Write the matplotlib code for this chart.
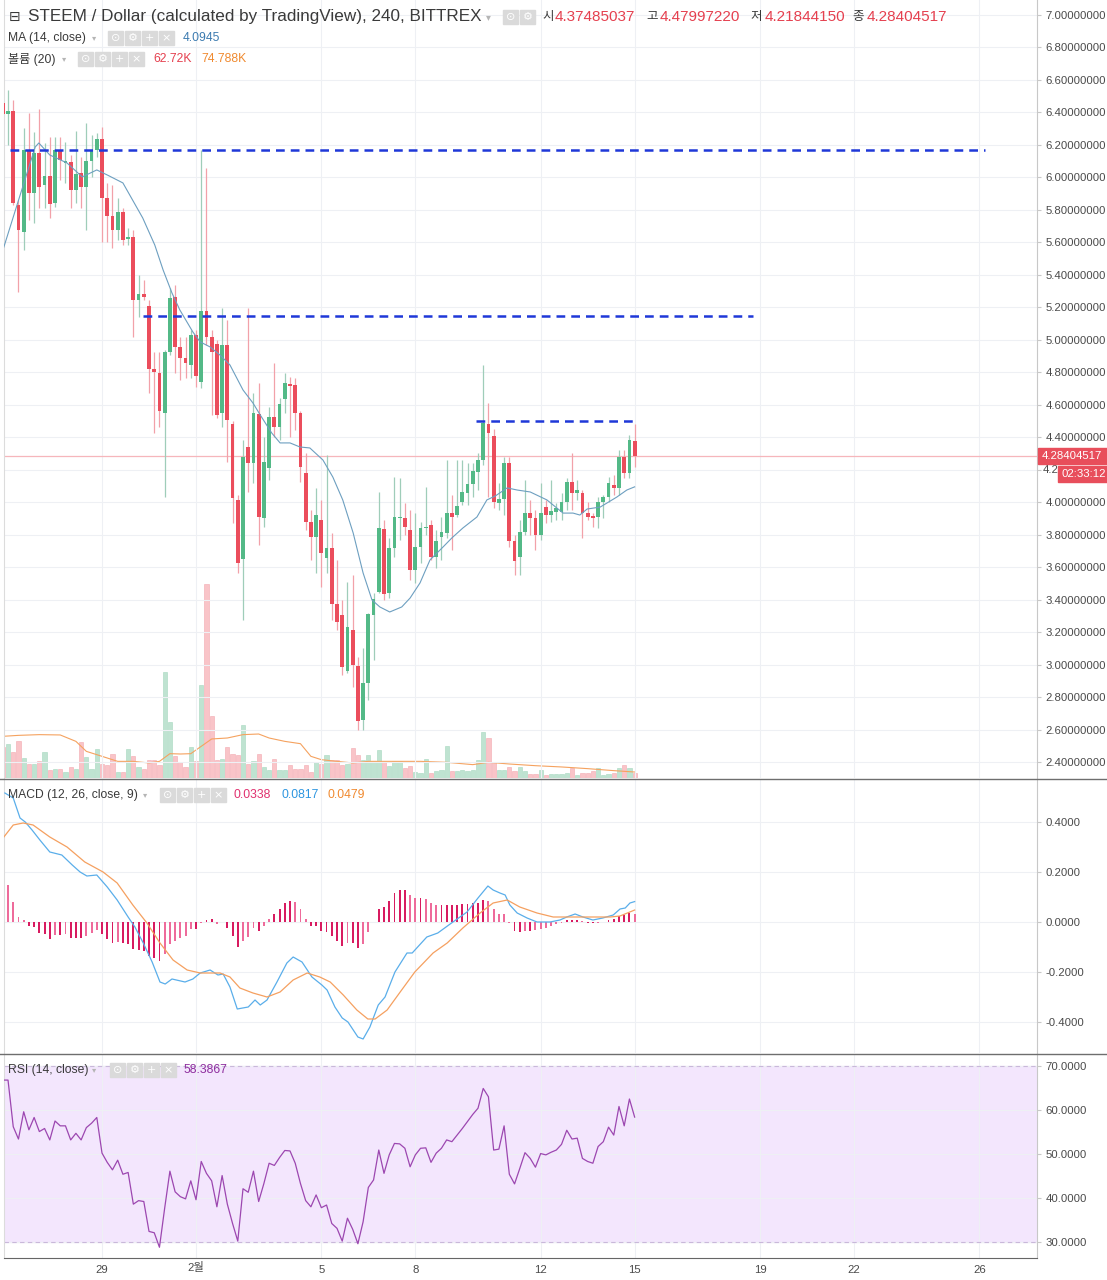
import numpy as np
import matplotlib
matplotlib.use('Agg')
import matplotlib.pyplot as plt
from matplotlib.patches import Rectangle
from matplotlib.lines import Line2D
from matplotlib.transforms import ScaledTranslation

plt.rcParams['font.family'] = ['Liberation Sans', 'Noto Sans CJK KR', 'DejaVu Sans']

W, H = 1107, 1280

# ---- STEEM / USD, 4h candles (index 0..121) ----
opens = [6.458, 6.390, 6.409, 5.830, 5.664, 6.169, 5.904, 6.150, 5.953, 6.009,
         5.842, 6.169, 6.089, 6.095, 5.922, 6.027, 5.941, 6.101, 6.169, 6.236,
         5.873, 5.762, 5.676, 5.787, 5.621, 5.633, 5.245, 5.282, 5.208, 4.820,
         4.796, 4.549, 4.925, 5.264, 4.956, 4.888, 4.845, 5.030, 4.740, 5.177,
         5.017, 4.974, 4.549, 4.968, 4.482, 4.014, 3.650, 4.340, 4.241, 4.543,
         3.903, 4.211, 4.525, 4.463, 4.636, 4.728, 4.722, 4.549, 4.180, 3.878,
         3.786, 3.890, 3.656, 3.718, 3.373, 3.305, 2.961, 3.213, 2.991, 2.659,
         2.887, 3.305, 3.447, 3.835, 3.441, 3.718, 3.903, 3.903, 3.829, 3.582,
         3.724, 3.841, 3.860, 3.663, 3.786, 3.810, 3.933, 3.921, 4.001, 4.057,
         4.112, 4.186, 4.260, 4.482, 4.408, 3.995, 4.020, 4.241, 3.761, 3.663,
         3.816, 3.934, 3.903, 3.798, 3.970, 3.921, 3.940, 3.940, 4.001, 4.124,
         4.057, 4.057, 3.933, 3.915, 3.909, 4.001, 4.032, 4.106, 4.087, 4.278,
         4.180, 4.3749]
highs = [6.480, 6.538, 6.477, 5.861, 6.304, 6.397, 6.280, 6.421, 6.212, 6.249,
         6.249, 6.249, 6.218, 6.138, 6.286, 6.126, 6.335, 6.261, 6.273, 6.310,
         5.966, 5.953, 5.873, 5.812, 5.689, 5.676, 5.399, 5.368, 5.245, 4.925,
         4.925, 4.937, 5.319, 5.337, 5.017, 5.017, 5.060, 5.060, 6.169, 6.058,
         5.060, 4.999, 5.196, 5.122, 4.500, 4.044, 4.383, 5.196, 4.673, 4.734,
         4.402, 4.586, 4.857, 4.642, 4.796, 4.771, 4.765, 4.560, 4.303, 3.952,
         4.088, 4.014, 4.291, 3.810, 3.644, 3.398, 3.509, 3.552, 3.047, 3.102,
         3.318, 3.441, 4.063, 3.890, 3.780, 4.155, 4.149, 3.995, 3.952, 3.934,
         3.878, 4.094, 3.890, 3.829, 3.909, 4.260, 4.044, 4.260, 4.260, 4.241,
         4.241, 4.303, 4.845, 4.611, 4.451, 4.118, 4.278, 4.278, 3.798, 3.890,
         4.137, 4.014, 3.952, 4.118, 4.014, 4.137, 3.995, 4.057, 4.149, 4.303,
         4.137, 4.075, 4.001, 3.933, 4.032, 4.044, 4.155, 4.168, 4.321, 4.321,
         4.414, 4.4800]
lows = [6.380, 6.200, 5.830, 5.294, 5.553, 5.738, 5.719, 5.812, 5.812, 5.750,
        5.818, 5.984, 5.966, 5.812, 5.842, 5.812, 5.676, 6.003, 6.126, 5.602,
        5.602, 5.565, 5.615, 5.584, 5.584, 5.017, 5.140, 5.245, 4.673, 4.426,
        4.463, 4.032, 4.906, 4.796, 4.753, 4.765, 4.765, 4.709, 4.703, 4.968,
        4.537, 4.520, 4.463, 4.248, 3.872, 3.564, 3.275, 4.063, 4.118, 3.737,
        3.847, 4.137, 4.402, 4.383, 4.549, 4.402, 4.445, 4.124, 3.829, 3.644,
        3.564, 3.478, 3.564, 3.275, 3.213, 2.936, 2.948, 2.862, 2.597, 2.597,
        2.782, 3.028, 3.441, 3.398, 3.410, 3.663, 3.767, 3.798, 3.521, 3.503,
        3.626, 3.798, 3.644, 3.595, 3.644, 3.780, 3.706, 3.909, 3.983, 3.983,
        4.032, 4.075, 4.229, 4.032, 3.964, 3.952, 3.921, 3.724, 3.552, 3.552,
        3.798, 3.798, 3.706, 3.767, 3.872, 3.878, 3.890, 3.890, 3.952, 3.952,
        4.014, 3.780, 3.890, 3.847, 3.841, 3.903, 4.001, 4.044, 4.044, 4.149,
        4.149, 4.2184]
closes = [6.390, 6.409, 5.842, 5.676, 6.169, 5.904, 6.150, 5.941, 6.009, 5.836,
          6.169, 6.107, 6.101, 5.922, 6.021, 5.941, 6.101, 6.169, 6.236, 5.873,
          5.762, 5.676, 5.787, 5.615, 5.633, 5.245, 5.282, 5.264, 4.820, 4.802,
          4.562, 4.925, 5.257, 4.956, 4.888, 4.857, 5.030, 4.777, 5.177, 5.017,
          4.925, 4.537, 4.968, 4.506, 4.026, 3.626, 4.278, 4.241, 4.549, 3.909,
          4.248, 4.525, 4.463, 4.605, 4.734, 4.716, 4.549, 4.217, 3.878, 3.786,
          3.921, 3.687, 3.718, 3.373, 3.262, 2.985, 3.232, 2.998, 2.653, 2.887,
          3.312, 3.404, 3.841, 3.435, 3.718, 3.909, 3.909, 3.847, 3.582, 3.724,
          3.841, 3.847, 3.663, 3.761, 3.816, 3.933, 3.909, 3.977, 4.063, 4.112,
          4.192, 4.260, 4.488, 4.426, 4.001, 4.020, 4.241, 3.761, 3.638, 3.816,
          3.934, 3.903, 3.798, 3.933, 3.921, 3.946, 3.964, 4.001, 4.124, 4.057,
          4.075, 3.933, 3.909, 3.903, 4.001, 4.032, 4.118, 4.087, 4.278, 4.180,
          4.383, 4.2840]
volume_k = [383, 429, 321, 467, 250, 179, 175, 208, 325, 104,
            113, 113, 71, 133, 113, 450, 263, 113, 363, 179,
            167, 304, 71, 71, 363, 279, 138, 113, 225, 225,
            167, 1325, 700, 279, 196, 138, 388, 217, 1158, 2429,
            779, 229, 238, 388, 304, 292, 663, 175, 208, 304,
            138, 104, 238, 96, 104, 167, 113, 117, 158, 71,
            200, 179, 292, 221, 229, 167, 179, 375, 283, 225,
            283, 208, 354, 200, 146, 208, 208, 125, 146, 75,
            63, 238, 63, 83, 96, 404, 92, 83, 96, 83,
            104, 221, 575, 500, 196, 96, 104, 133, 83, 133,
            83, 50, 50, 96, 42, 54, 54, 54, 63, 125,
            42, 63, 63, 83, 125, 42, 54, 63, 125, 158,
            125, 62.72]

# volume MA(20), read at a few vertices
vma_idx = [0, 3, 7, 11, 14, 16, 19, 22, 25, 28, 30, 32, 34, 36, 38, 40, 43, 46, 49,
           51, 54, 57, 59, 61, 64, 67, 70, 75, 80, 85, 90, 93, 97, 102, 107, 112, 117, 121]
vma_k = [521, 533, 542, 538, 458, 333, 271, 208, 208, 188, 208, 304, 300, 304, 396, 488,
         500, 542, 550, 500, 458, 429, 271, 229, 208, 188, 208, 208, 208, 196, 167, 196,
         175, 154, 138, 117, 92, 74.788]

# MA(14, close)
ma_idx = [0.2, 6.2, 6.9, 9.0, 12.3, 15.2, 18.0, 20.0, 23.0, 26.8, 29.1, 30.7, 32.4, 33.9,
          36.4, 37.8, 39.7, 41.6, 43.5, 46.0, 47.9, 49.3, 51.5, 53.1, 55.0, 56.9, 58.8,
          61.3, 63.2, 65.1, 67.1, 69.0, 70.7, 72.2, 74.1, 76.4, 78.0, 79.9, 81.8, 84.3,
          86.0, 88.1, 90.8, 92.7, 94.3, 96.6, 98.5, 101.0, 104.2, 106.1, 107.3, 109.2,
          110.5, 111.9, 114.4, 115.7, 117.6, 119.5, 121.0]
ma_val = [5.571, 6.187, 6.212, 6.138, 6.089, 6.003, 6.046, 6.015, 5.966, 5.750, 5.584,
          5.430, 5.288, 5.184, 5.048, 4.987, 4.956, 4.906, 4.845, 4.691, 4.611, 4.537,
          4.426, 4.365, 4.365, 4.340, 4.334, 4.260, 4.155, 4.014, 3.810, 3.564, 3.398,
          3.355, 3.324, 3.355, 3.410, 3.503, 3.644, 3.724, 3.780, 3.841, 3.909, 4.014,
          4.038, 4.088, 4.075, 4.063, 4.014, 3.964, 3.933, 3.933, 3.921, 3.958, 3.970,
          3.995, 4.032, 4.075, 4.0945]

# hand-drawn support / resistance levels
levels = [6.169, 5.147, 4.500]
level_from = [1.4, 26.8, 90.6]
level_to = [188.1, 143.7, 121.4]

# MACD (12, 26, close, 9)
macd_idx = [0.4, 2.0, 3.3, 4.3, 5.6, 7.1, 9.0, 11.3, 13.3, 14.8, 16.1, 18.0, 20.0, 21.9,
            24.0, 25.3, 26.9, 28.6, 30.1, 31.1, 32.4, 34.9, 36.4, 37.8, 39.7, 41.2, 42.2,
            43.5, 44.9, 47.0, 48.3, 49.3, 50.6, 52.5, 54.4, 55.6, 57.3, 59.2, 61.1, 62.1,
            63.6, 65.0, 66.1, 68.0, 69.0, 70.3, 71.9, 73.2, 75.1, 77.4, 78.4, 81.2, 83.3,
            86.2, 88.9, 91.0, 92.9, 93.9, 95.2, 96.2, 97.1, 98.5, 100.4, 102.3, 104.8,
            106.7, 108.0, 109.6, 111.1, 113.0, 114.9, 116.9, 118.2, 119.2, 120.1, 121.0]
macd_val = [0.516, 0.496, 0.416, 0.400, 0.368, 0.328, 0.280, 0.268, 0.228, 0.200, 0.184,
            0.188, 0.140, 0.088, 0.020, -0.020, -0.084, -0.160, -0.240, -0.248, -0.228,
            -0.240, -0.228, -0.204, -0.192, -0.212, -0.208, -0.260, -0.348, -0.340,
            -0.312, -0.332, -0.312, -0.240, -0.164, -0.140, -0.160, -0.220, -0.252,
            -0.272, -0.340, -0.384, -0.400, -0.460, -0.468, -0.420, -0.332, -0.300,
            -0.200, -0.124, -0.124, -0.060, -0.044, 0.000, 0.040, 0.096, 0.144, 0.128,
            0.116, 0.108, 0.068, 0.036, 0.016, 0.000, 0.000, 0.008, 0.020, 0.032, 0.020,
            0.008, 0.016, 0.028, 0.052, 0.056, 0.076, 0.0817]
sig_idx = [0.2, 2.0, 3.9, 5.8, 9.0, 12.3, 15.7, 19.2, 21.9, 24.9, 27.6, 30.1, 32.6, 35.3,
           37.8, 41.6, 43.5, 45.4, 47.9, 50.6, 53.1, 55.6, 58.3, 60.7, 62.7, 65.2, 67.8,
           69.9, 71.3, 73.6, 76.1, 78.9, 82.4, 85.1, 88.1, 91.4, 93.9, 96.6, 99.0, 102.3,
           105.4, 109.2, 113.0, 116.3, 118.2, 121.0]
sig_val = [0.340, 0.388, 0.396, 0.388, 0.340, 0.300, 0.240, 0.200, 0.156, 0.068, -0.004,
           -0.084, -0.152, -0.192, -0.204, -0.204, -0.220, -0.264, -0.284, -0.300, -0.280,
           -0.232, -0.204, -0.220, -0.240, -0.292, -0.352, -0.388, -0.388, -0.352, -0.280,
           -0.200, -0.124, -0.084, -0.024, 0.036, 0.076, 0.088, 0.060, 0.036, 0.020, 0.020,
           0.020, 0.020, 0.024, 0.0479]
hist = [np.nan, 0.147, 0.080, 0.020, 0.008, -0.016, -0.020, -0.043, -0.049, -0.067,
        -0.053, -0.053, -0.049, -0.063, -0.063, -0.063, -0.056, -0.043, -0.032, -0.049,
        -0.069, -0.083, -0.080, -0.083, -0.089, -0.107, -0.112, -0.116, -0.136, -0.143,
        -0.156, -0.129, -0.089, -0.076, -0.063, -0.056, -0.029, -0.029, -0.002, 0.008,
        0.011, -0.009, -0.001, -0.023, -0.056, -0.099, -0.076, -0.059, -0.023, -0.036,
        -0.016, 0.011, 0.031, 0.053, 0.077, 0.084, 0.080, 0.051, 0.013, -0.016,
        -0.016, -0.036, -0.040, -0.056, -0.076, -0.096, -0.085, -0.085, -0.103, -0.089,
        -0.040, 0.002, 0.053, 0.061, 0.084, 0.115, 0.127, 0.127, 0.107, 0.097,
        0.097, 0.093, 0.075, 0.067, 0.067, 0.067, 0.067, 0.067, 0.071, 0.071,
        0.075, 0.075, 0.088, 0.084, 0.051, 0.033, 0.031, -0.005, -0.036, -0.040,
        -0.036, -0.036, -0.032, -0.027, -0.023, -0.016, -0.009, -0.003, 0.007, 0.008,
        0.008, 0.003, -0.003, -0.005, -0.003, 0.001, 0.008, 0.011, 0.024, 0.027,
        0.037, 0.0338]

# RSI (14, close)
rsi = [66.8, 66.8, 56.2, 53.4, 59.6, 55.5, 58.3, 55.1, 55.8, 53.2,
       57.5, 56.4, 56.4, 53.2, 54.7, 53.2, 56.0, 57.0, 58.3, 50.2,
       48.1, 46.4, 48.6, 45.4, 45.8, 38.6, 39.4, 39.2, 32.4, 32.1,
       28.8, 37.7, 46.1, 41.4, 40.3, 39.8, 43.9, 39.6, 48.3, 45.6,
       43.9, 38.0, 45.1, 38.6, 34.2, 30.2, 42.1, 41.3, 46.1, 39.2,
       43.3, 47.9, 47.4, 49.2, 50.8, 50.7, 47.9, 43.3, 39.4, 38.0,
       40.7, 37.8, 38.4, 34.2, 33.1, 30.2, 35.4, 32.9, 29.6, 34.6,
       42.4, 44.1, 50.9, 45.6, 49.8, 52.4, 52.3, 51.3, 47.1, 49.8,
       51.3, 51.4, 48.1, 50.2, 51.3, 53.2, 52.8, 54.3, 55.8, 57.4,
       59.0, 60.4, 64.9, 63.0, 50.9, 51.1, 56.4, 45.4, 43.2, 46.7,
       50.3, 49.0, 47.0, 50.1, 49.8, 50.4, 50.9, 52.2, 55.4, 53.4,
       53.6, 49.0, 48.3, 47.9, 51.7, 52.8, 56.1, 54.3, 60.8, 56.4,
       62.5, 58.3867]

date_idx = [19, 37, 61, 79, 103, 121, 145, 163, 187]
date_lbl = ['29', '2월', '5', '8', '12', '15', '19', '22', '26']

# ---- style ----
GREEN = '#53b987'
RED = '#eb4d5c'
GRID = '#eef0f4'
TXT = '#3a3a3a'
TICKC = '#4a4a4a'
NUMRED = '#e5404f'

o = np.array(opens)
c = np.array(closes)
hi = np.array(highs)
lo = np.array(lows)
idx = np.arange(len(c))
up = c >= o

fig = plt.figure(figsize=(W / 100, H / 100), dpi=100)


def rect(top, bottom):
    return [4 / W, 1 - bottom / H, (1037 - 4) / W, (bottom - top) / H]


XL = (0.23, 198.05)


def style(a, yt, labels, ylim):
    a.set_xlim(*XL)
    a.set_ylim(*ylim)
    a.set_xticks(date_idx)
    a.set_yticks(yt)
    a.set_yticklabels(labels)
    a.yaxis.tick_right()
    a.tick_params(axis='y', length=3, pad=3, color='#c8c8c8', labelcolor=TICKC, labelsize=8.2)
    a.tick_params(axis='x', length=0, labelbottom=False)
    a.grid(True, color=GRID, lw=0.8)
    a.set_axisbelow(True)
    for s in ['top', 'bottom']:
        a.spines[s].set_visible(False)
    a.spines['right'].set_color('#c8c8c8')
    a.spines['left'].set_color('#dcdcdc')
    a.spines['left'].set_linewidth(0.8)


# ---- main price panel with volume overlay ----
axv = fig.add_axes(rect(0, 778))
axv.set_xlim(*XL)
axv.set_ylim(0, 9725)
axv.axis('off')
vcol = np.where(up, '#bfe3d1', '#f9c4c8')
axv.bar(idx, volume_k, width=0.8, color=vcol, edgecolor=np.where(up, '#a6d7bf', '#f3a9b0'), lw=0.4)
axv.plot(vma_idx, vma_k, color='#f5a25f', lw=0.8)

ax = fig.add_axes(rect(0, 778))
ax.patch.set_alpha(0)
price_ticks = np.round(np.arange(2.4, 7.01, 0.2), 1)
# the 4.2 label sits partly under the countdown tag, so only "4.2" shows
price_lbl = ['' if abs(v - 4.2) < 1e-9 else '%.8f' % v for v in price_ticks]
style(ax, price_ticks, price_lbl, (2.3017, 7.0924))

ax.axhline(c[-1], color='#f6b6bb', lw=0.9, zorder=1)
ax.vlines(idx, lo, hi, colors=np.where(up, '#9fcdb9', '#f2a1a9'), lw=0.9, zorder=2)
body = np.maximum(np.abs(c - o), 0.006)
ax.bar(idx, body, bottom=np.minimum(o, c), width=0.72, color=np.where(up, GREEN, RED), zorder=3)
ax.plot(ma_idx, ma_val, color='#6d9fc0', lw=0.8, zorder=4)
ax.hlines(levels, level_from, level_to, colors='#1f38d8', lw=1.8,
          linestyles=[(0, (3.5, 2.4))], zorder=5)

# ---- MACD panel ----
ax2 = fig.add_axes(rect(779, 1053))
mt = [-0.4, -0.2, 0.0, 0.2, 0.4]
style(ax2, mt, ['%.4f' % v for v in mt], (-0.524, 0.572))
hv = np.array(hist)
grow = np.abs(hv) >= np.abs(np.concatenate([[0], hv[:-1]]))
ax2.bar(idx, hv, width=0.36, color=np.where(grow, '#d81b60', '#ee6b9b'), zorder=2)
ax2.plot(macd_idx, macd_val, color='#5aaeea', lw=0.9, zorder=3)
ax2.plot(sig_idx, sig_val, color='#f5a060', lw=0.9, zorder=3)

# ---- RSI panel ----
ax3 = fig.add_axes(rect(1054, 1258))
rt = [30, 40, 50, 60, 70]
style(ax3, rt, ['%.4f' % v for v in rt], (26.36, 72.73))
ax3.axhspan(30, 70, color='#f3e6fd', zorder=0)
ax3.axhline(70, color='#c9b8da', lw=0.8, ls=(0, (4, 3)), zorder=1)
ax3.axhline(30, color='#c9b8da', lw=0.8, ls=(0, (4, 3)), zorder=1)
ax3.plot(idx, rsi, color='#9c47b0', lw=0.9, zorder=3)
ax3.tick_params(axis='x', labelbottom=True, labelsize=8.2, labelcolor=TICKC, pad=5)
ax3.set_xticklabels(date_lbl)
for t in ax3.get_xticklabels():
    if t.get_text() == '2월':
        t.set_transform(t.get_transform() + ScaledTranslation(0, 2 / 72, fig.dpi_scale_trans))
ax3.spines['bottom'].set_visible(True)
ax3.spines['bottom'].set_color('#666666')

# panel separators
for yy in (778.5, 1053.5):
    fig.add_artist(Line2D([0, 1], [1 - yy / H] * 2, transform=fig.transFigure,
                          color='#6e6e6e', lw=1.0))


# ---- header texts ----
def label(x, y, s, color=TXT, size=8.7, **kw):
    fig.text(x / W, 1 - y / H, s, color=color, fontsize=size, va='center', ha='left', **kw)


def icons(x, y, n):
    glyphs = ['⊙', '⚙', '+', '×']
    for k in range(n):
        fig.add_artist(Rectangle(((x + 17 * k) / W, 1 - (y + 7) / H), 15 / W, 14 / H,
                                 transform=fig.transFigure, color='#dadada', zorder=6))
        fig.text((x + 17 * k + 7.5) / W, 1 - y / H, glyphs[k], color='white', fontsize=8,
                 ha='center', va='center', family='DejaVu Sans', zorder=7)


label(9, 17, '⊟', size=10, family='DejaVu Sans')
label(28, 17, 'STEEM / Dollar (calculated by TradingView), 240, BITTREX', size=12.3)
label(486, 17, '▾', color='#b5b5b5', size=7, family='DejaVu Sans')
icons(503, 17, 2)
for x0, k, x1, v in [(542, '시', 555, '4.37485037'), (646, '고', 660, '4.47997220'),
                     (750, '저', 765, '4.21844150'), (852, '종', 867, '4.28404517')]:
    label(x0, 17, k, size=9)
    label(x1, 17, v, color=NUMRED, size=11)

label(8, 38, 'MA (14, close)')
label(92, 38, '▾', color='#b5b5b5', size=6, family='DejaVu Sans')
icons(108, 38, 4)
label(183, 38, '4.0945', color='#3c7bb0')

label(8, 59, '볼륨 (20)')
label(62, 59, '▾', color='#b5b5b5', size=6, family='DejaVu Sans')
icons(78, 59, 4)
label(153, 59, '62.72K', color=NUMRED)
label(201, 59, '74.788K', color='#f08a30')

label(8, 795, 'MACD (12, 26, close, 9)')
label(143, 795, '▾', color='#b5b5b5', size=6, family='DejaVu Sans')
icons(160, 795, 4)
label(234, 795, '0.0338', color='#e0306e')
label(281, 795, '0.0817', color='#2e96e0')
label(328, 795, '0.0479', color='#f08a30')

label(8, 1070, 'RSI (14, close)')
label(92, 1070, '▾', color='#b5b5b5', size=6, family='DejaVu Sans')
icons(110, 1070, 4)
label(184, 1070, '58.3867', color='#8e2e9e')

# last price tags on the price scale
fig.add_artist(Rectangle((1038 / W, 1 - 464 / H), 69 / W, 16 / H, transform=fig.transFigure,
                         color='#e84e5b', zorder=6))
label(1042, 456, '4.28404517', color='white', size=8.2, zorder=7)
label(1043, 470, '4.2', color=TICKC, size=8.2)
fig.add_artist(Rectangle((1058 / W, 1 - 482 / H), 49 / W, 16 / H, transform=fig.transFigure,
                         color='#e84e5b', zorder=6))
label(1061, 474, '02:33:12', color='white', size=8.2, zorder=7)

fig.savefig('out.png', dpi=100)
